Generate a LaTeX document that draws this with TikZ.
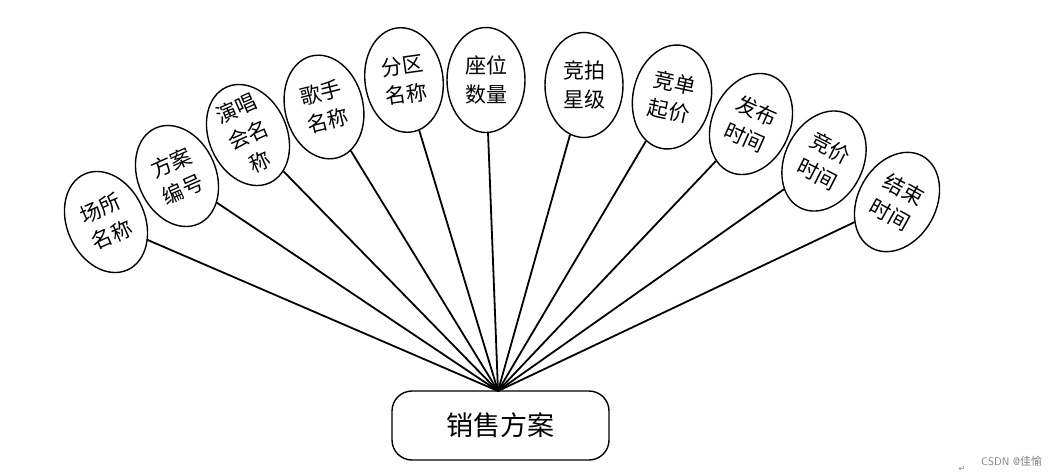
\documentclass[tikz,border=0pt]{standalone}
\usepackage{fontspec}
\newfontfamily\cjk{Noto Sans CJK SC}
\newfontfamily\dejavu{DejaVu Sans}
\usetikzlibrary{shapes.geometric}
\begin{document}
\begin{tikzpicture}[x=1pt,y=-1pt,
  attr/.style={draw=black, line width=1.4pt, ellipse, minimum width=78pt, minimum height=105pt, inner sep=0pt},
  lbl/.style={font=\cjk\fontsize{21}{29}\selectfont, align=center, inner sep=0pt},
  link/.style={draw=black, line width=1.8pt},
  mainbox/.style={draw=black, line width=1.4pt, rounded corners=20pt, minimum width=217pt, minimum height=69pt, inner sep=0pt, font=\cjk\fontsize{27}{30}\selectfont}]
\useasboundingbox (0,0) rectangle (1064,474);
\node[mainbox] (sale) at (500.5,425.5) {销售方案};
\coordinate (hub) at (498,391);
\foreach \n/\x/\y/\r/\t in {
  e1/106/222/24/{场所\\名称},
  e2/177/176/24/{方案\\编号},
  e3/248/135/24/{演唱\\会名\\称},
  e4/324/107/14/{歌手\\名称},
  e5/404/80/8/{分区\\名称},
  e6/486/80/0/{座位\\数量},
  e7/584/85/0/{竞拍\\星级},
  e8/672/97/-12/{竞单\\起价},
  e9/751/124/-24/{发布\\时间},
  e10/824/161/-27/{竞价\\时间},
  e11/897/202/-29/{结束\\时间}}{
  \node[attr, rotate=\r] (\n) at (\x,\y) {};
  \node[lbl, rotate=\r] (\n t) at (\n) {\t};
  \draw[link] (\n) -- (hub);
}
\node[font=\sffamily\fontsize{11}{12}\selectfont, text=gray, anchor=west, inner sep=0pt] (wm) at (981,461) {CSDN @{\cjk 佳愉}};
\node[font=\dejavu\fontsize{8}{9}\selectfont, text=gray, inner sep=0pt] (ret) at (962,469) {↵};
\end{tikzpicture}
\end{document}
